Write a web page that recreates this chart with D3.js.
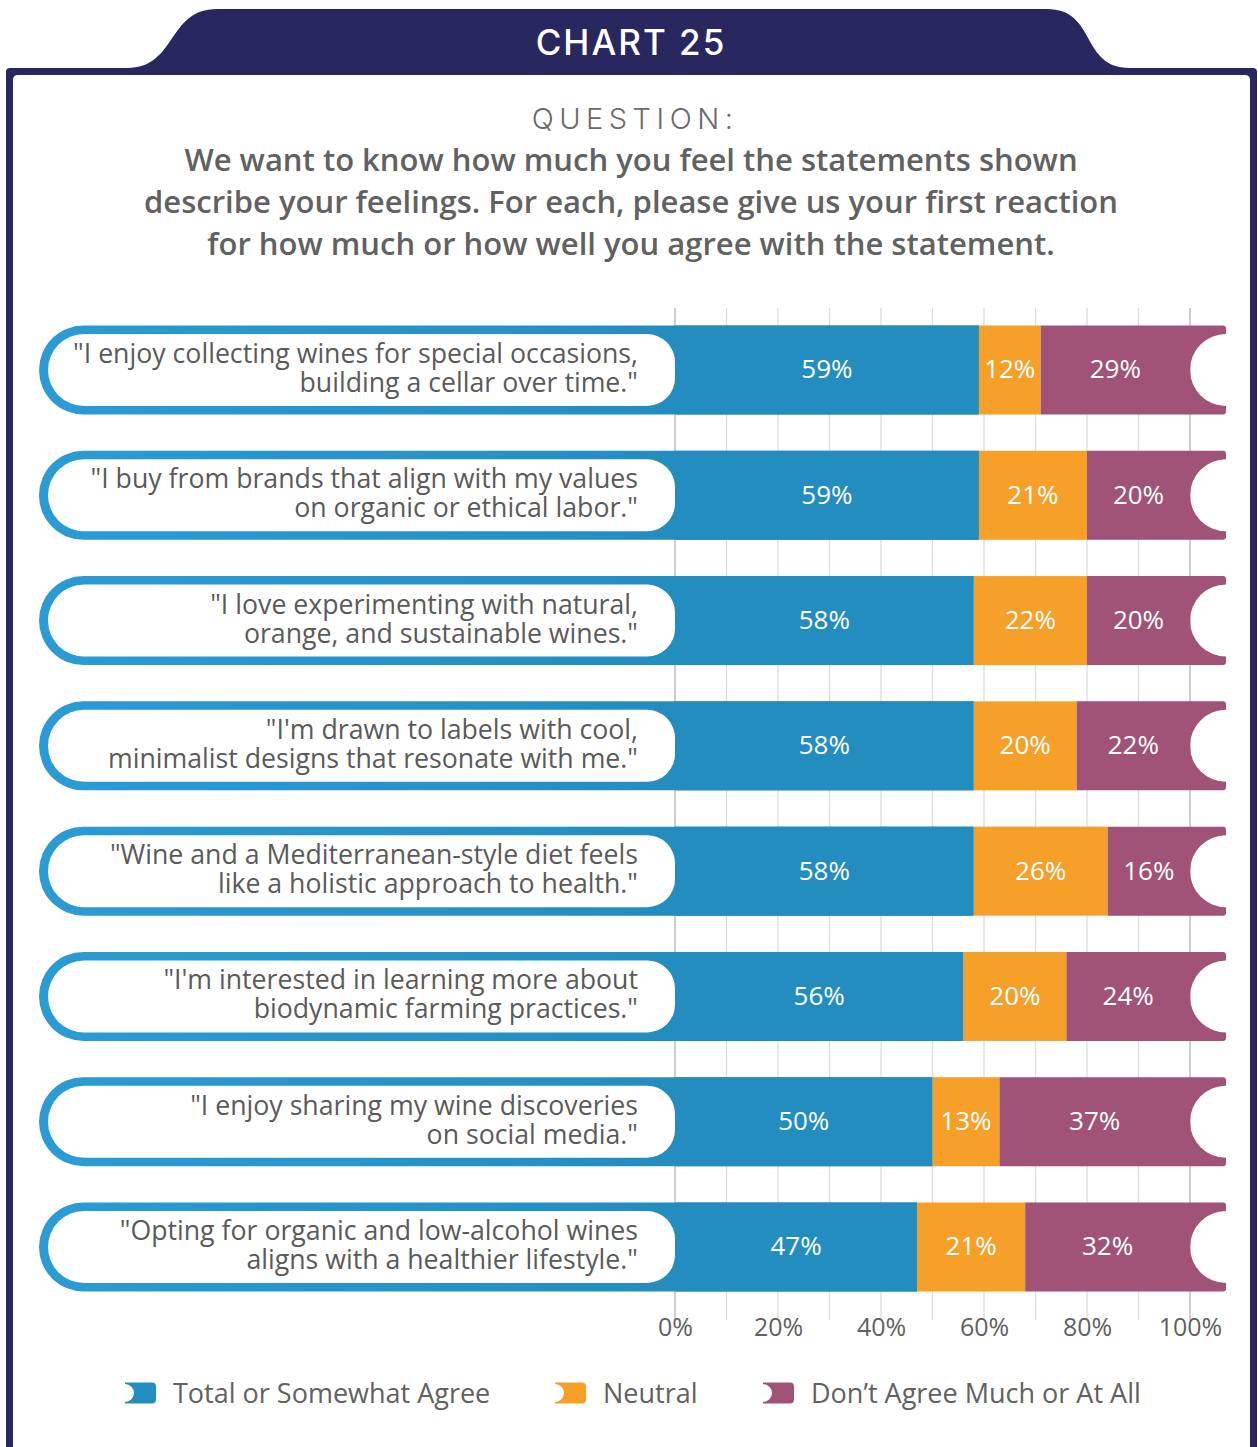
<!DOCTYPE html>
<html>
<head>
<meta charset="utf-8">
<script src="https://cdn.jsdelivr.net/npm/d3@7"></script>
<style>
  html, body { margin: 0; padding: 0; background: #ffffff; }
  svg { display: block; }
</style>
</head>
<body>
<svg id="chart" width="1258" height="1447"></svg>
<script>
// Survey statements (two lines each), top to bottom
const statements = [
  ["\"I enjoy collecting wines for special occasions,", "building a cellar over time.\""],
  ["\"I buy from brands that align with my values", "on organic or ethical labor.\""],
  ["\"I love experimenting with natural,", "orange, and sustainable wines.\""],
  ["\"I'm drawn to labels with cool,", "minimalist designs that resonate with me.\""],
  ["\"Wine and a Mediterranean-style diet feels", "like a holistic approach to health.\""],
  ["\"I'm interested in learning more about", "biodynamic farming practices.\""],
  ["\"I enjoy sharing my wine discoveries", "on social media.\""],
  ["\"Opting for organic and low-alcohol wines", "aligns with a healthier lifestyle.\""]
];

// Share of respondents per answer (%)
const agree    = [59, 59, 58, 58, 58, 56, 50, 47];
const neutral  = [12, 21, 22, 20, 26, 20, 13, 21];
const disagree = [29, 20, 20, 22, 16, 24, 37, 32];

const seriesNames = ["Total or Somewhat Agree", "Neutral", "Don\u2019t Agree Much or At All"];
const tickValues = [0, 20, 40, 60, 80, 100];
const gridValues = [0, 10, 20, 30, 40, 50, 60, 70, 80, 90, 100];

const titleText = "CHART 25";
const questionLabel = "QUESTION:";
const questionLines = [
  "We want to know how much you feel the statements shown",
  "describe your feelings. For each, please give us your first reaction",
  "for how much or how well you agree with the statement."
];

const NAVY = "#29275f";
const BLUE = "#238dc0";
const BLUE_LIGHT = "#2b9bd6";
const ORANGE = "#f6a02a";
const PURPLE = "#a05277";
const TEXT = "#616161";

const svg = d3.select("#chart");

// ---------- frame with title tab ----------
const defs = svg.append("defs");
const grad = defs.append("linearGradient")
  .attr("id", "pillBlue").attr("gradientUnits", "userSpaceOnUse")
  .attr("x1", 39).attr("x2", 675).attr("y1", 0).attr("y2", 0);
grad.append("stop").attr("offset", 0).attr("stop-color", BLUE_LIGHT);
grad.append("stop").attr("offset", 1).attr("stop-color", BLUE);

const framePath =
  "M6,72 Q6,68 10,68 L127,68 C177,68 167,9 217,9 L1047,9 C1097,9 1080,68 1130,68 " +
  "L1253,68 Q1257,68 1257,72 L1257,1460 L6,1460 Z " +
  "M13,80 Q13,75 18,75 L1245,75 Q1250,75 1250,80 L1250,1460 L13,1460 Z";
svg.append("path").attr("d", framePath).attr("fill", NAVY).attr("fill-rule", "evenodd");

svg.append("text")
  .attr("x", 631).attr("y", 55)
  .attr("text-anchor", "middle")
  .attr("fill", "#ffffff")
  .style("font-family", "Inter, 'Open Sans', sans-serif")
  .style("font-weight", 500)
  .style("font-size", "35px")
  .style("letter-spacing", "2px")
  .text(titleText);

// ---------- question heading ----------
svg.append("text")
  .attr("x", 635).attr("y", 129)
  .attr("text-anchor", "middle")
  .attr("fill", "#6a6a6a")
  .style("font-family", "Inter, Lato, sans-serif")
  .style("font-weight", 300)
  .style("font-size", "29px")
  .style("letter-spacing", "5.5px")
  .text(questionLabel);

svg.append("g").selectAll("text")
  .data(questionLines)
  .join("text")
  .attr("x", 631)
  .attr("y", (d, i) => 171 + i * 42)
  .attr("text-anchor", "middle")
  .attr("fill", TEXT)
  .style("font-family", "'Open Sans', sans-serif")
  .style("font-weight", 600)
  .style("font-size", "31px")
  .text(d => d);

// ---------- scales ----------
const x = d3.scaleLinear().domain([0, 100]).range([675, 1190]);
const y = d3.scalePoint().domain(d3.range(statements.length)).range([370, 1247]);

const BAR_H = 89, PILL_H = 72;
const PILL_LEFT = 39, LABEL_LEFT = 48;
const NOTCH_R = 36, TAIL = 36;

// ---------- grid ----------
svg.append("g").selectAll("line")
  .data(gridValues)
  .join("line")
  .attr("x1", d => x(d)).attr("x2", d => x(d))
  .attr("y1", 308).attr("y2", 1320)
  .attr("stroke", d => (d === 0 || d === 100) ? "#b4b4b4" : "#dcdcdc")
  .attr("stroke-width", 1.3);

// ---------- axis ----------
const axis = d3.axisBottom(x).tickValues(tickValues).tickFormat(d => d + "%").tickSize(0).tickPadding(0);
const axisG = svg.append("g").attr("transform", "translate(0,1336)").call(axis);
axisG.select(".domain").remove();
axisG.selectAll("text")
  .attr("dy", 0).attr("y", 0)
  .attr("fill", TEXT)
  .style("font-family", "'Open Sans', sans-serif")
  .style("font-size", "25px");

// ---------- bars ----------
const rows = statements.map((s, i) => ({ i, s, a: agree[i], n: neutral[i], d: disagree[i] }));

const rowG = svg.append("g").selectAll("g")
  .data(rows)
  .join("g")
  .attr("transform", d => `translate(0,${y(d.i)})`);

const hb = BAR_H / 2, hp = PILL_H / 2;

// blue "agree" shape including the rounded pill behind the statement
rowG.append("path")
  .attr("d", d => {
    const xe = x(d.a), cx = PILL_LEFT + hb;
    return `M${xe},${-hb} L${cx},${-hb} A${hb},${hb} 0 0 0 ${cx},${hb} L${xe},${hb} Z`;
  })
  .attr("fill", "url(#pillBlue)");
rowG.append("rect")
  .attr("x", x(0)).attr("y", -hb)
  .attr("width", d => x(d.a) - x(0)).attr("height", BAR_H)
  .attr("fill", BLUE);

// neutral
rowG.append("rect")
  .attr("x", d => x(d.a)).attr("y", -hb)
  .attr("width", d => x(d.a + d.n) - x(d.a)).attr("height", BAR_H)
  .attr("fill", ORANGE);

// disagree with notched tail
rowG.append("path")
  .attr("d", d => {
    const xs = x(d.a + d.n), xe = x(d.a + d.n + d.d) + TAIL, r = 3;
    return `M${xs},${-hb} L${xe - r},${-hb} Q${xe},${-hb} ${xe},${-hb + r} ` +
      `L${xe},${-NOTCH_R} A${NOTCH_R},${NOTCH_R} 0 0 0 ${xe},${NOTCH_R} ` +
      `L${xe},${hb - r} Q${xe},${hb} ${xe - r},${hb} L${xs},${hb} Z`;
  })
  .attr("fill", PURPLE);

// white statement pill
rowG.append("path")
  .attr("d", () => {
    const cx = LABEL_LEFT + hp, xr = x(0), rr = 28;
    return `M${cx},${-hp} L${xr - rr},${-hp} A${rr},${rr} 0 0 1 ${xr},${-hp + rr} ` +
      `L${xr},${hp - rr} A${rr},${rr} 0 0 1 ${xr - rr},${hp} L${cx},${hp} ` +
      `A${hp},${hp} 0 0 1 ${cx},${-hp} Z`;
  })
  .attr("fill", "#ffffff");

// statement text
rowG.append("text")
  .attr("text-anchor", "end")
  .attr("fill", "#5a5a5a")
  .style("font-family", "'Open Sans', sans-serif")
  .style("font-weight", 500)
  .style("font-size", "26.7px")
  .selectAll("tspan")
  .data(d => d.s)
  .join("tspan")
  .attr("x", 638)
  .attr("y", (d, i) => i === 0 ? -7 : 22)
  .text(d => d);

// value labels
const valueLabel = (sel, cxFn, valFn) =>
  sel.append("text")
    .attr("x", cxFn)
    .attr("y", -1).attr("dy", "0.36em")
    .attr("text-anchor", "middle")
    .attr("fill", "#ffffff")
    .style("font-family", "'Open Sans', sans-serif")
    .style("font-size", "26px")
    .text(d => valFn(d) + "%");

valueLabel(rowG, d => (x(0) + x(d.a)) / 2, d => d.a);
valueLabel(rowG, d => (x(d.a) + x(d.a + d.n)) / 2, d => d.n);
valueLabel(rowG, d => (x(d.a + d.n) + x(d.a + d.n + d.d)) / 2, d => d.d);

// ---------- legend ----------
const legendColors = [BLUE, ORANGE, PURPLE];
const legendX = [125, 555, 763];
const legend = svg.append("g").selectAll("g")
  .data(seriesNames.map((name, i) => ({ name, color: legendColors[i], x0: legendX[i] })))
  .join("g")
  .attr("transform", d => `translate(${d.x0},1393)`);

legend.append("path")
  .attr("d", () => {
    const w = 31, h = 21, r = 4, nr = 9;
    const t = -h / 2, b = h / 2;
    return `M0,${t} L${w - r},${t} Q${w},${t} ${w},${t + r} L${w},${b - r} Q${w},${b} ${w - r},${b} ` +
      `L0,${b} L0,${nr} A${nr},${nr} 0 0 0 0,${-nr} Z`;
  })
  .attr("fill", d => d.color);

legend.append("text")
  .attr("x", 48).attr("y", 0).attr("dy", "0.36em")
  .attr("fill", TEXT)
  .style("font-family", "'Open Sans', sans-serif")
  .style("font-size", "27px")
  .text(d => d.name);
</script>
</body>
</html>
